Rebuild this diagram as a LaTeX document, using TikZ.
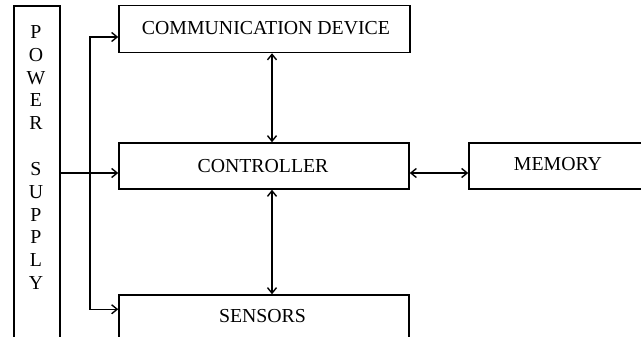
\documentclass[tikz,border=0pt]{standalone}
\usepackage{fontspec}
\setmainfont{Liberation Serif}
\usetikzlibrary{arrows.meta,calc}

\tikzset{
  blockbox/.style={draw, line width=1.5pt, inner sep=0pt},
  label/.style={inner sep=0pt, font=\fontsize{19.8}{21}\selectfont},
  link/.style={line width=1.4pt, arrows={Straight Barb[length=5.5pt,width=9pt,line width=1.4pt]-Straight Barb[length=5.5pt,width=9pt,line width=1.4pt]}},
  feed/.style={line width=1.4pt, -{Straight Barb[length=5.5pt,width=9pt,line width=1.4pt]}}
}

\begin{document}
\begin{tikzpicture}[x=1pt,y=-1pt]
  \useasboundingbox (0,0) rectangle (641,337);

  % blocks (some run past the page edge)
  \node[blockbox, minimum width=46pt, minimum height=340pt] (ps) at (37,176) {};
  \node[blockbox, minimum width=291pt, minimum height=47pt] (comm) at (264.5,29) {};
  \node[blockbox, minimum width=290pt, minimum height=46pt] (ctrl) at (264,166) {};
  \node[blockbox, minimum width=178pt, minimum height=46pt] (mem) at (558,166) {};
  \node[blockbox, minimum width=290pt, minimum height=46pt] (sens) at (264,318) {};

  % block texts
  \node[label] (commtxt) at (266,28) {COMMUNICATION DEVICE};
  \node[label] (ctrltxt) at (263,166) {CONTROLLER};
  \node[label] (memtxt) at (558,164) {MEMORY};
  \node[label] (senstxt) at (262.5,316) {SENSORS};
  \node[label, align=center, font=\fontsize{19.8}{22.85}\selectfont] (pstxt) at (36,157.5)
    {P\\O\\W\\E\\R\\[22.85pt]S\\U\\P\\P\\L\\Y};

  % supply distribution
  \coordinate (jn) at (90,173);
  \coordinate (vx) at (272,0);
  \draw[feed] ([yshift=-7pt]ps.east |- ctrl.west) -- ([yshift=-7pt]ctrl.west);
  \draw[feed] (jn) |- ([yshift=-8pt]comm.west);
  \draw[feed] (jn) |- ([yshift=-15pt]sens.north west);

  % data links
  \draw[link] (comm.south -| vx) -- (ctrl.north -| vx);
  \draw[link] (ctrl.south -| vx) -- (sens.north -| vx);
  \draw[link] ([yshift=-7pt]ctrl.east) -- ([yshift=-7pt]mem.west);
\end{tikzpicture}
\end{document}
